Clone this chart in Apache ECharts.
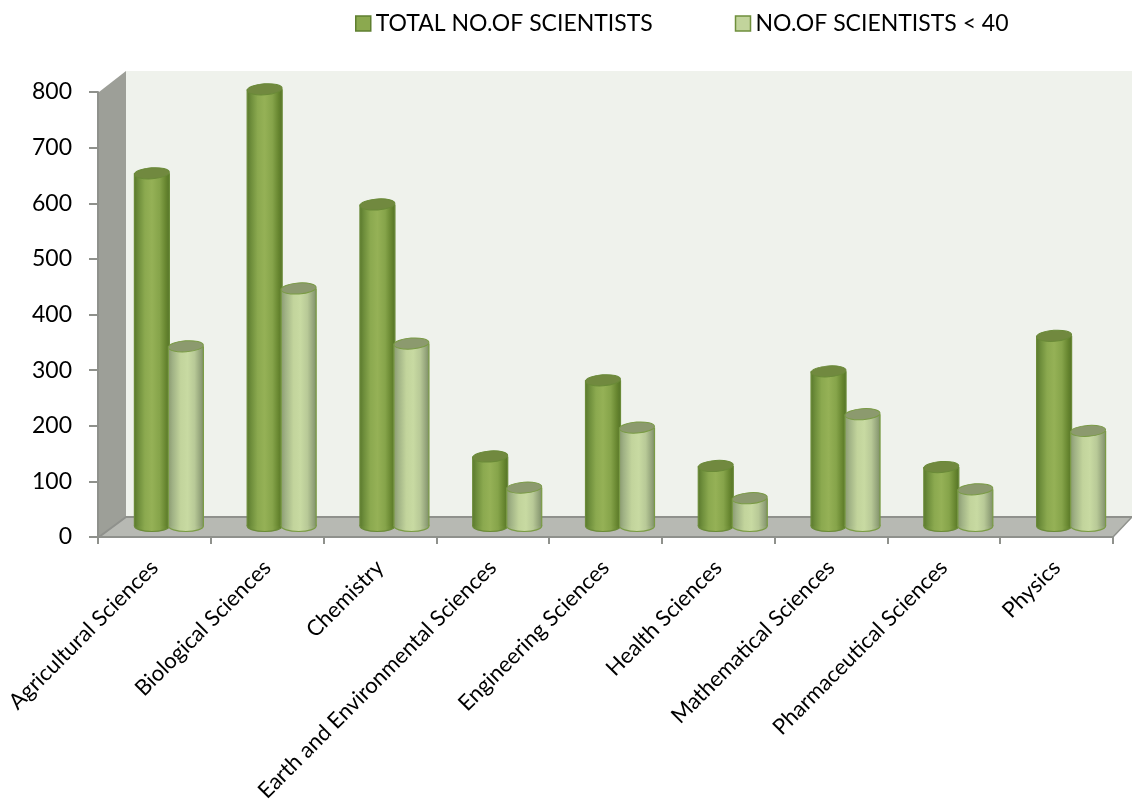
<!DOCTYPE html>
<html>
<head>
<meta charset="utf-8">
<style>html,body{margin:0;padding:0;background:#fff}#c{width:1132px;height:799px}</style>
<script src="https://cdn.jsdelivr.net/npm/echarts@6/dist/echarts.min.js"></script>
</head>
<body>
<div id="c"></div>
<script>
var categories = ['Agricultural Sciences','Biological Sciences','Chemistry','Earth and Environmental Sciences','Engineering Sciences','Health Sciences','Mathematical Sciences','Pharmaceutical Sciences','Physics'];
var totalScientists = [634,785,578,125,262,108,278,106,342];
var under40 = [323,427,328,69,177,50,201,66,171];
var yTicks = [0,800];

var FONT = 'Lato, "Open Sans", sans-serif';
var DEPTH_X = 14.5, DEPTH_Y = 11;
var L = 99, R = 1113, T = 92, B = 537;
var BACK_X = 126, BACK_TOP = 71, BACK_FLOOR = 517;

function grad(stops){
  return {type:'linear',x:0,y:0,x2:1,y2:0,colorStops:stops.map(function(s){return {offset:s[0],color:s[1]};})};
}
var darkBody = grad([[0,'#5b7a2e'],[0.12,'#6f8f3c'],[0.3,'#8ba94f'],[0.5,'#95b156'],[0.72,'#86a44a'],[0.9,'#66852f'],[1,'#567428']]);
var lightBody = grad([[0,'#8b9b72'],[0.12,'#a0b285'],[0.35,'#c2d49c'],[0.55,'#c8daa2'],[0.75,'#b8c997'],[0.92,'#93a37a'],[1,'#7f9068']]);

function cylinder(side, body, cap, stroke){
  return function(params, api){
    var p = api.coord([api.value(0), api.value(1)]);
    var base = api.coord([api.value(0), 0]);
    var w = 35, rx = w/2, ry = 5.5;
    var cx = p[0] + side*17;
    var tilt = 0.07;
    return {type:'group', children:[
      {type:'ellipse', shape:{cx:cx,cy:base[1],rx:rx,ry:ry},
        style:{fill:body,stroke:stroke,lineWidth:1.2}},
      {type:'rect', shape:{x:cx-rx,y:p[1],width:w,height:base[1]-p[1]},
        style:{fill:body}},
      {type:'line', shape:{x1:cx-rx,y1:p[1],x2:cx-rx,y2:base[1]}, style:{stroke:stroke,lineWidth:1.2}},
      {type:'line', shape:{x1:cx+rx,y1:p[1],x2:cx+rx,y2:base[1]}, style:{stroke:stroke,lineWidth:1.2}},
      {type:'ellipse', shape:{cx:0,cy:0,rx:rx,ry:ry}, x:cx, y:p[1], rotation:tilt,
        style:{fill:cap,stroke:stroke,lineWidth:1}}
    ]};
  };
}

var chart = echarts.init(document.getElementById('c'), null, {renderer:'canvas'});
chart.setOption({
  animation:false,
  backgroundColor:'#fff',
  legend:{
    left:350, top:7, itemWidth:15, itemHeight:15, itemGap:82, icon:'rect',
    textStyle:{fontFamily:FONT,fontSize:23,color:'#000'},
    data:[
      {name:'TOTAL NO.OF SCIENTISTS', itemStyle:{color:'#8ba94f',borderColor:'#5f7f30',borderWidth:1.5}},
      {name:'NO.OF SCIENTISTS < 40', itemStyle:{color:'#c2d49c',borderColor:'#6f8f3c',borderWidth:1.5}}
    ]
  },
  graphic:{elements:[
    {type:'polygon',z:-20,silent:true,shape:{points:[[BACK_X,BACK_TOP],[1132,BACK_TOP],[1132,BACK_FLOOR],[BACK_X,BACK_FLOOR]]},style:{fill:'#eff2ec'}},
    {type:'polygon',z:-19,silent:true,shape:{points:[[L,T],[BACK_X,BACK_TOP],[BACK_X,BACK_FLOOR],[L,B]]},style:{fill:'#9d9f98'}},
    {type:'polygon',z:-18,silent:true,shape:{points:[[L,B],[BACK_X,BACK_FLOOR],[1132,BACK_FLOOR],[R,B]]},style:{fill:'#b7b9b3'}},
    {type:'polyline',z:-17,silent:true,shape:{points:[[L,B],[BACK_X,BACK_FLOOR],[1132,BACK_FLOOR]]},style:{stroke:'#8f918c',lineWidth:2,fill:'none'}},
    {type:'line',z:-17,silent:true,shape:{x1:R,y1:B,x2:1132,y2:BACK_FLOOR},style:{stroke:'#8f918c',lineWidth:1.5}}
  ]},
  grid:[
    {left:L-1,right:1132-R,top:T,bottom:799-B,outerBoundsMode:'none'},
    {left:L-1+DEPTH_X,right:1132-R-DEPTH_X,top:T-DEPTH_Y,bottom:799-B+DEPTH_Y,outerBoundsMode:'none'}
  ],
  xAxis:[
    {type:'category',gridIndex:0,data:categories,
     axisLine:{lineStyle:{color:'#8f918c',width:2}},
     axisTick:{show:true,length:7,interval:0,inside:false,lineStyle:{color:'#8f918c',width:2}},
     axisLabel:{interval:0,rotate:45,margin:27,fontFamily:FONT,fontSize:22,color:'#000',hideOverlap:false},
     splitLine:{show:false}},
    {type:'category',gridIndex:1,data:categories,show:false,splitLine:{show:false}}
  ],
  yAxis:[
    {type:'value',gridIndex:0,min:yTicks[0],max:yTicks[1],interval:100,
     axisLine:{show:true,lineStyle:{color:'#8f918c',width:2}},
     axisTick:{show:true,length:9,lineStyle:{color:'#8f918c',width:2}},
     axisLabel:{margin:26,fontFamily:FONT,fontSize:23,color:'#000'},splitLine:{show:false}},
    {type:'value',gridIndex:1,min:yTicks[0],max:yTicks[1],interval:100,show:false,splitLine:{show:false}}
  ],
  series:[
    {name:'TOTAL NO.OF SCIENTISTS',type:'custom',xAxisIndex:1,yAxisIndex:1,z:3,
     itemStyle:{color:'#8ba94f'},clip:false,encode:{x:0,y:1},
     data:totalScientists.map(function(v,i){return [i,v];}),
     renderItem:cylinder(-1,darkBody,'#71893f','#6a8a38')},
    {name:'NO.OF SCIENTISTS < 40',type:'custom',xAxisIndex:1,yAxisIndex:1,z:4,
     itemStyle:{color:'#c2d49c'},clip:false,encode:{x:0,y:1},
     data:under40.map(function(v,i){return [i,v];}),
     renderItem:cylinder(1,lightBody,'#8c9a6e','#7a9b45')}
  ]
});
</script>
</body>
</html>
